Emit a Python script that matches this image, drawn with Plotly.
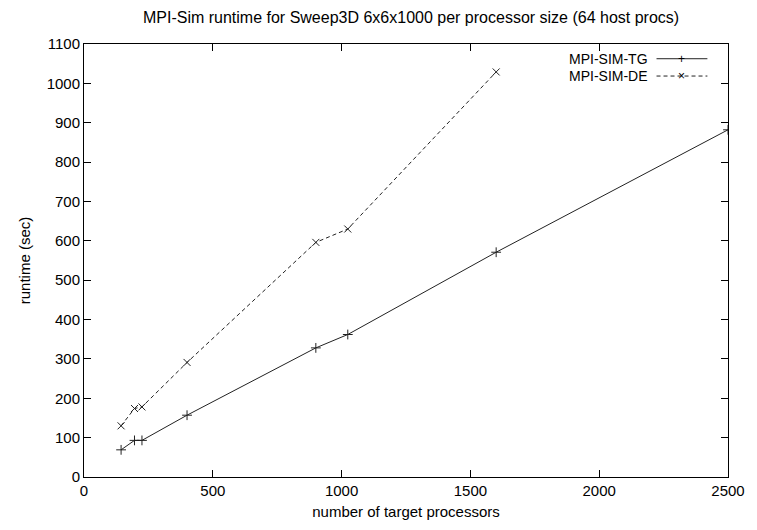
import plotly.graph_objects as go

tg_x = [144, 196, 225, 400, 900, 1024, 1600, 2500]
tg_y = [69, 93, 93, 157, 328, 362, 571, 882]
de_x = [144, 196, 225, 400, 900, 1024, 1600]
de_y = [130, 174, 178, 291, 596, 630, 1029]

x_ticks = [0, 500, 1000, 1500, 2000, 2500]
y_ticks = [0, 100, 200, 300, 400, 500, 600, 700, 800, 900, 1000, 1100]

FONT = "Liberation Sans, Arial, sans-serif"

fig = go.Figure()
fig.add_trace(go.Scatter(x=tg_x, y=tg_y, mode="lines+markers", name="MPI-SIM-TG",
                         line=dict(color="#222", width=1),
                         marker=dict(symbol="cross-thin", size=7, line=dict(color="#222", width=1)),
                         showlegend=False))
fig.add_trace(go.Scatter(x=de_x, y=de_y, mode="lines+markers", name="MPI-SIM-DE",
                         line=dict(color="#222", width=1, dash="4px,3px"),
                         marker=dict(symbol="x-thin", size=7, line=dict(color="#222", width=1)),
                         showlegend=False))

axis_common = dict(showgrid=False, zeroline=False, showline=True, linecolor="black", linewidth=1,
                   ticks="inside", ticklen=7, tickcolor="black", mirror="allticks",
                   tickfont=dict(family=FONT, size=15, color="black"))

fig.update_xaxes(range=[0, 2500], tickvals=x_ticks,
                 title=dict(text="number of target processors", font=dict(family=FONT, size=15, color="black"), standoff=8),
                 **axis_common)
fig.update_yaxes(range=[0, 1100], tickvals=y_ticks,
                 title=dict(text="runtime (sec)", font=dict(family=FONT, size=15, color="black"), standoff=12),
                 **axis_common)

# manual gnuplot-style legend (text left, sample right)
legend_items = [("MPI-SIM-TG", "solid", "+"), ("MPI-SIM-DE", "4px,3px", "×")]
ys = [0.966, 0.926]
for (label, dash, sym), yy in zip(legend_items, ys):
    fig.add_annotation(x=0.879, y=yy, xref="paper", yref="paper", text=label, showarrow=False,
                       xanchor="right", yanchor="middle", font=dict(family=FONT, size=14, color="black"))
    fig.add_shape(type="line", xref="paper", yref="paper", x0=0.889, x1=0.968, y0=yy, y1=yy,
                  line=dict(color="#222", width=1, dash=dash))
    fig.add_annotation(x=0.928, y=yy, xref="paper", yref="paper", text=sym, showarrow=False,
                       xanchor="center", yanchor="middle", font=dict(family=FONT, size=12, color="black"))

fig.update_layout(
    width=757, height=530,
    margin=dict(l=84, r=19, t=44, b=51),
    paper_bgcolor="white", plot_bgcolor="white",
    title=dict(text="MPI-Sim runtime for Sweep3D 6x6x1000 per processor size (64 host procs)",
               x=0.543, xanchor="center", y=0.968, yanchor="middle",
               font=dict(family=FONT, size=16, color="black")),
)

fig.write_html("out.html")
